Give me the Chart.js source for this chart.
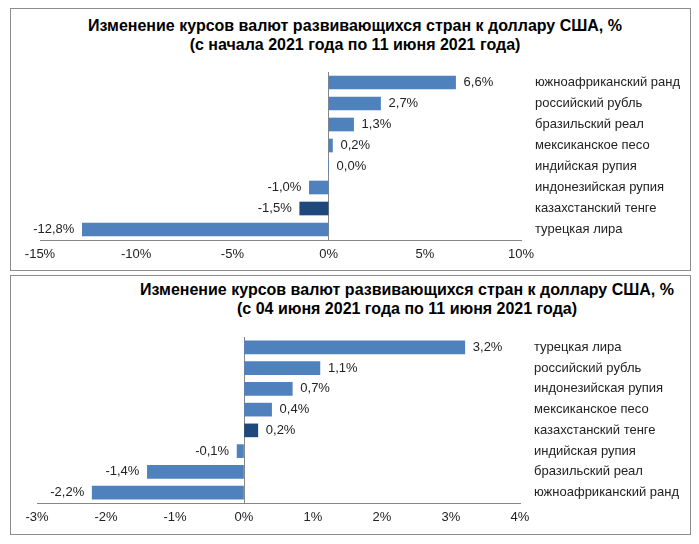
<!DOCTYPE html>
<html lang="ru">
  <head>
    <meta charset="UTF-8" />
    <title>Изменение курсов валют развивающихся стран к доллару США</title>
    <script src="https://cdn.jsdelivr.net/npm/chart.js"></script>
    <style>
      body {
        margin: 0;
        width: 699px;
        height: 544px;
        position: relative;
        overflow: hidden;
        background: #fff;
        font-family: "Liberation Sans", Arial, sans-serif;
      }
      canvas {
        position: absolute;
        left: 0;
      }
      .frame {
        position: absolute;
        left: 10px;
        width: 679px;
        border: 1px solid #8c8c8c;
        pointer-events: none;
      }
      .title {
        position: absolute;
        font-weight: bold;
        font-size: 16px;
        line-height: 19px;
        text-align: center;
        color: #000;
        white-space: nowrap;
      }
    </style>
  </head>
  <body>
    <div class="frame" style="top: 8px; height: 261px"></div>
    <div class="frame" style="top: 275px; height: 258px"></div>

    <div class="title" style="left: 55px; width: 600px; top: 16px">
      Изменение курсов валют развивающихся стран к доллару США, %<br />
      (с начала 2021 года по 11 июня 2021 года)
    </div>
    <div class="title" style="left: 107px; width: 600px; top: 280px">
      Изменение курсов валют развивающихся стран к доллару США, %<br />
      (с 04 июня 2021 года по 11 июня 2021 года)
    </div>

    <canvas id="chartYear" width="699" height="272" style="top: 0"></canvas>
    <canvas id="chartWeek" width="699" height="272" style="top: 272px"></canvas>

    <script>
      // с начала 2021 года
      const yearLabels = [
        "южноафриканский ранд",
        "российский рубль",
        "бразильский реал",
        "мексиканское песо",
        "индийская рупия",
        "индонезийская рупия",
        "казахстанский тенге",
        "турецкая лира",
      ];
      const yearValues = [6.6, 2.7, 1.3, 0.2, 0.0, -1.0, -1.5, -12.8];
      const yearTicks = { min: -15, max: 10, step: 5 };

      // с 04 июня 2021 года
      const weekLabels = [
        "турецкая лира",
        "российский рубль",
        "индонезийская рупия",
        "мексиканское песо",
        "казахстанский тенге",
        "индийская рупия",
        "бразильский реал",
        "южноафриканский ранд",
      ];
      const weekValues = [3.2, 1.1, 0.7, 0.4, 0.2, -0.1, -1.4, -2.2];
      const weekTicks = { min: -3, max: 4, step: 1 };

      const highlight = "казахстанский тенге";

      const barColor = "#4f81bd";
      const highlightColor = "#1f497d";
      const axisColor = "#868686";
      const textColor = "#222";
      const font = { family: "'Liberation Sans', Arial, sans-serif", size: 13 };

      function fmt(v) {
        return v.toFixed(1).replace(".", ",") + "%";
      }

      // подписи значений у концов столбиков
      const valueLabels = {
        id: "valueLabels",
        afterDatasetsDraw(chart) {
          const ctx = chart.ctx;
          const ds = chart.data.datasets[0];
          ctx.save();
          ctx.font = font.size + "px " + font.family;
          ctx.fillStyle = textColor;
          ctx.textBaseline = "middle";
          chart.getDatasetMeta(0).data.forEach((bar, i) => {
            const v = ds.data[i];
            if (v >= 0) {
              ctx.textAlign = "left";
              ctx.fillText(fmt(v), bar.x + 8, bar.y);
            } else {
              ctx.textAlign = "right";
              ctx.fillText(fmt(v), bar.x - 8, bar.y);
            }
          });
          ctx.restore();
        },
      };

      function makeChart(id, labels, values, ticks, pad, axisWidth) {
        return new Chart(document.getElementById(id), {
          type: "bar",
          data: {
            labels: labels,
            datasets: [
              {
                data: values,
                backgroundColor: labels.map((l) =>
                  l === highlight ? highlightColor : barColor
                ),
                barThickness: 13,
              },
            ],
          },
          options: {
            indexAxis: "y",
            responsive: false,
            animation: false,
            devicePixelRatio: 1,
            layout: { padding: pad },
            plugins: {
              legend: { display: false },
              tooltip: { enabled: false },
            },
            scales: {
              x: {
                min: ticks.min,
                max: ticks.max,
                afterFit(scale) {
                  scale.height = 24;
                },
                ticks: {
                  stepSize: ticks.step,
                  padding: 7,
                  color: textColor,
                  font: font,
                  callback: (v) => v + "%",
                },
                grid: {
                  drawTicks: false,
                  color: (c) =>
                    c.tick && c.tick.value === 0 ? axisColor : "transparent",
                },
                border: { display: true, color: axisColor },
              },
              y: {
                position: "right",
                afterFit(scale) {
                  scale.width = axisWidth;
                },
                ticks: {
                  crossAlign: "near",
                  padding: 6,
                  color: textColor,
                  font: font,
                },
                grid: { display: false },
                border: { display: false },
              },
            },
          },
          plugins: [valueLabels],
        });
      }

      makeChart(
        "chartYear",
        yearLabels,
        yearValues,
        yearTicks,
        { left: 40, right: 10, top: 72, bottom: 8 },
        168
      );
      makeChart(
        "chartWeek",
        weekLabels,
        weekValues,
        weekTicks,
        { left: 37, right: 10, top: 65, bottom: 17 },
        169
      );
    </script>
  </body>
</html>
